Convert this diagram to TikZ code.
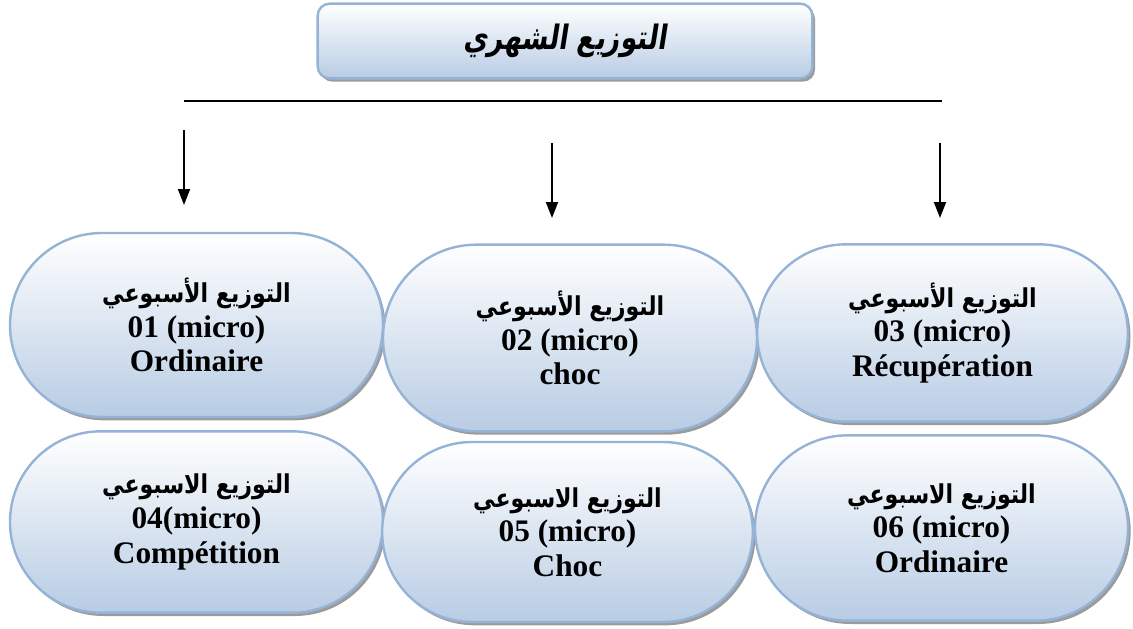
\documentclass[tikz,border=0pt]{standalone}
\usepackage{fontspec}
\setmainfont{Liberation Serif}
\newfontfamily\arabicfont[Script=Arabic]{DejaVu Sans}
\newfontfamily\arabictitle[Script=Arabic,FakeSlant=0.2]{DejaVu Sans Bold}
\TeXXeTstate=1
\usetikzlibrary{shapes.misc,shadows,arrows.meta}
\definecolor{bord}{RGB}{149,179,215}
\definecolor{fillb}{RGB}{184,204,228}
\tikzset{
  oval/.style={rounded rectangle, rounded rectangle arc length=180, draw=bord, line width=1.8pt,
    top color=white, bottom color=fillb,
    drop shadow={shadow xshift=2pt, shadow yshift=-2.5pt, fill=black!65, opacity=0.6},
    align=center, inner sep=0pt,
    font=\fontsize{23.5}{26}\selectfont\bfseries},
  titlebox/.style={rectangle, rounded corners=9pt, draw=bord, line width=1.8pt,
    top color=white, bottom color=fillb,
    drop shadow={shadow xshift=2pt, shadow yshift=-2.5pt, fill=black!65, opacity=0.6},
    inner sep=0pt, minimum width=371pt, minimum height=56pt,
    font=\arabictitle\fontsize{24}{28}\selectfont},
  link/.style={line width=1.4pt, black},
  arr/.style={link, -{Triangle[length=12pt,width=9pt]}}
}
\newcommand{\arl}[1]{{\arabicfont\fontsize{19.5}{26}\selectfont\scalebox{0.85}[1]{\beginR #1\endR}}}
\begin{document}
\begin{tikzpicture}[x=0.75pt,y=-0.75pt]
\useasboundingbox (0,0) rectangle (1133,629);
\node[titlebox] (title) at (565,41) {\scalebox{0.83}[1.05]{\beginR التوزيع الشهري\endR}};

\coordinate (l1) at (184,101);
\coordinate (l2) at (942,101);
\draw[link] (l1) -- (l2);

\coordinate (a1s) at (184,130); \coordinate (a1e) at (184,205);
\coordinate (a2s) at (552,143); \coordinate (a2e) at (552,218);
\coordinate (a3s) at (940,143); \coordinate (a3e) at (940,218);
\draw[arr] (a1s) -- (a1e);
\draw[arr] (a2s) -- (a2e);
\draw[arr] (a3s) -- (a3e);

\node[oval, minimum width=279.75pt, minimum height=138pt] (w1) at (196.5,325)
  {\arl{التوزيع الأسبوعي}\\01 (micro)\\Ordinaire};
\node[oval, minimum width=280.5pt, minimum height=140pt] (w2) at (570,338)
  {\arl{التوزيع الأسبوعي}\\02 (micro)\\choc};
\node[oval, minimum width=278pt, minimum height=133pt] (w3) at (942.5,333)
  {\arl{التوزيع الأسبوعي}\\03 (micro)\\Récupération};
\node[oval, minimum width=279.75pt, minimum height=136pt] (w4) at (196.5,522)
  {\arl{التوزيع الاسبوعي}\\04(micro)\\Compétition};
\node[oval, minimum width=278pt, minimum height=135pt] (w5) at (567.5,532)
  {\arl{التوزيع الاسبوعي}\\05 (micro)\\Choc};
\node[oval, minimum width=279.75pt, minimum height=139pt] (w6) at (941.5,528)
  {\arl{التوزيع الاسبوعي}\\06 (micro)\\Ordinaire};
\end{tikzpicture}
\end{document}
